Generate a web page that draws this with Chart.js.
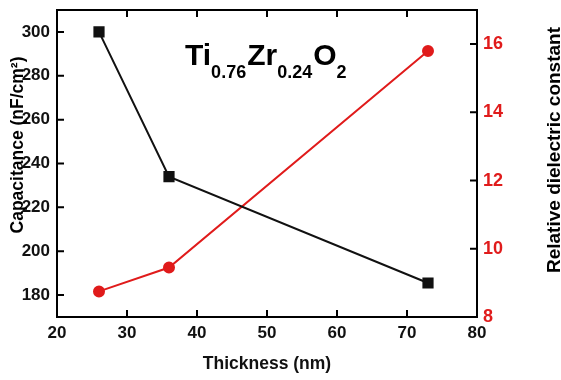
<!DOCTYPE html>
<html>
<head>
<meta charset="utf-8">
<script src="https://cdn.jsdelivr.net/npm/chart.js@4.4.0/dist/chart.umd.min.js"></script>
<style>
  html, body { margin: 0; padding: 0; background: #fff; }
  #wrap { width: 561px; height: 380px; }
</style>
</head>
<body>
<div id="wrap"><canvas id="chart"></canvas></div>
<script>
// ── data ─────────────────────────────────────────────────────────────────────
const thickness = [26, 36, 73];
const capacitance = [300, 234, 185.5];
const dielectric = [8.75, 9.45, 15.8];

const xTicks = [20, 30, 40, 50, 60, 70, 80];
const capTicks = [180, 200, 220, 240, 260, 280, 300];
const epsTicks = [8, 10, 12, 14, 16];

const RED = "#e01b1b";
const FONT = "'Liberation Sans', Arial, sans-serif";

// ── inward ticks, frame, side titles and formula label ───────────────────────
const decor = {
    id: "decor",
    afterDraw(chart) {
        const { ctx, chartArea: a, scales } = chart;
        const tl = 7;
        ctx.save();
        ctx.strokeStyle = "#000";
        ctx.lineWidth = 2;
        ctx.beginPath();
        xTicks.forEach(v => {
            const px = scales.x.getPixelForValue(v);
            ctx.moveTo(px, a.bottom); ctx.lineTo(px, a.bottom - tl);
            ctx.moveTo(px, a.top); ctx.lineTo(px, a.top + tl);
        });
        capTicks.forEach(v => {
            const py = scales.y.getPixelForValue(v);
            ctx.moveTo(a.left, py); ctx.lineTo(a.left + tl, py);
        });
        epsTicks.forEach(v => {
            const py = scales.y1.getPixelForValue(v);
            ctx.moveTo(a.right, py); ctx.lineTo(a.right - tl, py);
        });
        ctx.stroke();
        ctx.strokeRect(a.left, a.top, a.right - a.left, a.bottom - a.top);

        // side titles, reading bottom to top
        ctx.fillStyle = "#000";
        ctx.textAlign = "center";
        ctx.textBaseline = "middle";
        ctx.save();
        ctx.font = "bold 17.5px " + FONT;
        ctx.translate(18, 145);
        ctx.rotate(-Math.PI / 2);
        ctx.fillText("Capacitance (nF/cm²)", 0, 0);
        ctx.restore();

        ctx.font = "bold 19px " + FONT;
        ctx.translate(555, 150);
        ctx.rotate(-Math.PI / 2);
        ctx.fillText("Relative dielectric constant", 0, 0);
        ctx.restore();

        // Ti0.76Zr0.24O2
        ctx.save();
        ctx.fillStyle = "#000";
        ctx.textAlign = "left";
        ctx.textBaseline = "alphabetic";
        const parts = [["Ti", 0], ["0.76", 1], ["Zr", 0], ["0.24", 1], ["O", 0], ["2", 1]];
        let x = 185;
        const base = 65;
        parts.forEach(([t, sub]) => {
            ctx.font = sub ? "bold 18px " + FONT : "bold 30px " + FONT;
            ctx.fillText(t, x, sub ? base + 13 : base);
            x += ctx.measureText(t).width + (sub ? 1 : 0);
        });
        ctx.restore();
    },
};

function noPad(s) {
    s.paddingTop = 0;
    s.paddingBottom = 0;
    s.paddingLeft = 0;
    s.paddingRight = 0;
}

// ── chart ────────────────────────────────────────────────────────────────────
const ctx = document.getElementById("chart").getContext("2d");
new Chart(ctx, {
    type: "line",
    data: {
        datasets: [
            {
                label: "Capacitance",
                data: thickness.map((t, i) => ({ x: t, y: capacitance[i] })),
                yAxisID: "y",
                borderColor: "#111",
                backgroundColor: "#111",
                borderWidth: 2,
                pointStyle: "rect",
                pointRadius: 6.5,
                pointHoverRadius: 6.5,
                tension: 0,
            },
            {
                label: "Dielectric constant",
                data: thickness.map((t, i) => ({ x: t, y: dielectric[i] })),
                yAxisID: "y1",
                borderColor: RED,
                backgroundColor: RED,
                borderWidth: 2,
                pointStyle: "circle",
                pointRadius: 5,
                pointHoverRadius: 5,
                tension: 0,
            },
        ],
    },
    options: {
        responsive: true,
        maintainAspectRatio: false,
        animation: false,
        layout: { padding: { top: 10, left: 0, right: 0, bottom: 0 } },
        plugins: { legend: { display: false }, tooltip: { enabled: false } },
        scales: {
            x: {
                type: "linear",
                min: 20,
                max: 80,
                afterBuildTicks: s => { s.ticks = xTicks.map(v => ({ value: v })); },
                afterFit: s => { s.height = 63; noPad(s); },
                grid: { display: false, drawTicks: false },
                border: { display: false },
                ticks: { color: "#111", padding: 6, maxRotation: 0, font: { family: FONT, size: 17, weight: "bold" } },
                title: {
                    display: true,
                    text: "Thickness (nm)",
                    color: "#111",
                    padding: { top: 0, bottom: 5 },
                    font: { family: FONT, size: 17.5, weight: "bold" },
                },
            },
            y: {
                position: "left",
                min: 170,
                max: 310,
                afterBuildTicks: s => { s.ticks = capTicks.map(v => ({ value: v })); },
                afterFit: s => { s.width = 57; noPad(s); },
                grid: { display: false, drawTicks: false },
                border: { display: false },
                ticks: { color: "#111", padding: 7, font: { family: FONT, size: 17, weight: "bold" } },
            },
            y1: {
                position: "right",
                min: 8,
                max: 17,
                afterBuildTicks: s => { s.ticks = epsTicks.map(v => ({ value: v })); },
                afterFit: s => { s.width = 84; noPad(s); },
                grid: { display: false, drawTicks: false },
                border: { display: false },
                ticks: { color: RED, padding: 6, font: { family: FONT, size: 18, weight: "bold" } },
            },
        },
    },
    plugins: [decor],
});
</script>
</body>
</html>
